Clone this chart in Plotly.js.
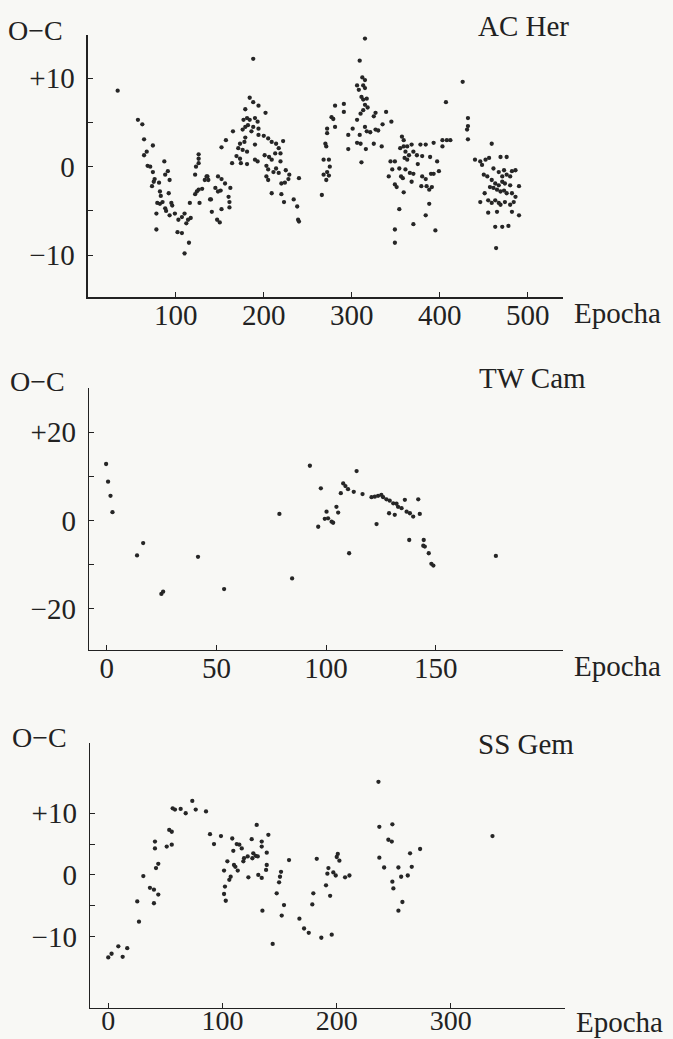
<!DOCTYPE html>
<html>
<head>
<meta charset="utf-8">
<script src="https://cdn.plot.ly/plotly-3.0.1.min.js"></script>
<style>html,body{margin:0;padding:0;background:#f8f8f5;}#chart{width:673px;height:1039px;}</style>
</head>
<body>
<div id="chart"></div>
<script>
// ---------- DATA ----------
const panelNames = ['AC Her', 'TW Cam', 'SS Gem'];
const yLabel = 'O\u2212C';
const xLabel = 'Epocha';

const acHerEpoch = [34,57,62,64,74,67,64,68,71,74,87,91,88,76,75,73,81,93,82,83,92,79,82,85,95,96,88,89,78,93,99,78,103,107,110,102,107,112,114,117,115,110,116,122,124,126,130,122,123,126,126,126,127,133,136,139,
188,184,188,194,179,202,177,181,184,190,193,179,182,188,194,176,165,186,194,200,205,209,214,222,157,152,179,178,173,171,176,181,169,173,190,164,174,181,190,193,201,206,209,213,217,219,203,205,214,217,211,203,205,219,220,224,225,229,240,228,209,220,223,234,238,239,240,135,137,148,152,145,148,151,156,162,140,160,161,141,152,161,147,150,
266,268,268,270,271,271,272,272,274,275,274,272,
315,309,312,315,306,308,313,315,311,313,317,315,318,313,291,281,291,277,279,310,327,325,339,345,335,306,301,281,315,317,321,327,330,296,309,306,310,325,334,296,316,311,
357,359,355,359,363,368,361,365,360,363,370,374,380,378,384,393,403,403,408,407,344,349,346,354,361,366,370,375,389,397,399,390,393,380,384,385,388,391,379,368,358,356,349,351,342,359,354,388,384,370,395,349,349,412,
426,432,432,431,432,459,440,446,448,452,456,469,476,461,467,473,482,486,480,476,471,450,454,459,463,467,471,474,480,490,457,461,465,469,473,476,482,486,451,455,446,463,467,459,469,474,484,480,455,465,482,490,463,471,478,464];
const acHerOC = [8.6,5.3,4.8,3.1,2.4,1.7,1.3,0.1,0.0,-0.6,0.6,-0.5,-0.9,-1.4,-1.7,-2.2,-1.8,-1.5,-2.8,-3.3,-3.0,-4.1,-4.2,-4.0,-4.1,-4.4,-4.7,-5.0,-5.3,-5.5,-5.3,-7.1,-6.0,-5.7,-5.3,-7.4,-7.5,-6.4,-6.0,-5.8,-8.6,-9.8,-4.1,-3.1,-2.8,-2.6,-2.5,-0.9,0.0,0.4,0.9,1.4,-4.1,-1.5,-1.1,-3.7,
12.2,7.8,7.3,6.9,6.5,6.1,5.3,5.5,5.3,5.5,5.1,4.5,4.7,4.5,4.3,4.2,4.0,4.0,3.6,3.5,3.2,2.8,2.6,2.9,3.0,2.2,3.3,2.8,2.6,2.1,1.9,1.7,1.2,0.9,2.5,0.4,0.4,0.3,0.8,0.6,1.3,1.1,0.8,1.5,2.1,1.5,0.1,-0.3,-0.2,-0.7,-0.6,-1.1,-1.5,0.6,-1.9,-1.8,-0.4,-0.9,-1.3,-1.4,-3.0,-3.1,-4.0,-3.7,-4.5,-6.0,-6.2,-1.1,-1.5,-1.1,-1.4,-2.4,-2.8,-2.7,-1.9,-2.4,-3.7,-3.4,-4.0,-5.1,-4.8,-4.6,-6.0,-6.3,
-3.2,0.8,-0.9,2.6,2.3,-1.5,3.8,4.3,0.8,0.0,-1.0,-0.6,
14.5,12.0,10.1,9.8,9.2,8.7,9.2,8.9,7.9,7.6,7.7,7.0,6.7,6.4,7.1,6.9,6.2,5.6,5.4,6.0,6.1,5.7,6.2,5.1,4.8,5.3,4.3,4.5,4.5,4.0,3.9,4.2,4.1,3.6,3.6,2.7,2.6,2.6,2.3,2.0,2.0,0.5,
3.4,3.0,2.1,2.3,2.3,2.5,1.7,1.3,1.0,0.8,1.7,1.3,1.2,2.5,2.5,2.7,2.3,3.0,3.0,7.3,0.6,0.6,-0.3,-0.2,-0.3,-0.7,-0.8,0.3,1.1,0.6,-0.5,-0.8,-0.8,-1.1,-1.4,-2.2,-2.6,-2.3,-2.2,-1.7,-1.3,-1.1,-2.0,-2.3,-1.1,-2.9,-4.8,-4.2,-5.5,-6.5,-7.2,-7.1,-8.6,3.0,
9.6,5.5,4.6,4.2,3.1,2.6,0.8,0.6,0.2,0.8,1.0,1.1,1.1,-0.2,-0.6,-0.4,-0.5,-0.4,-1.1,-0.9,-1.1,-0.9,-1.1,-1.5,-1.9,-2.1,-1.7,-1.9,-2.1,-2.2,-2.3,-2.4,-2.6,-2.8,-2.7,-3.0,-3.0,-3.4,-3.0,-3.8,-4.0,-3.8,-4.1,-4.1,-4.3,-4.0,-4.0,-4.3,-5.2,-5.1,-5.1,-5.5,-6.8,-6.8,-6.7,-9.2];

const twCamEpoch = [-0.3,0.6,1.7,2.6,13.8,16.6,24.9,25.7,41.6,53.5,78.7,84.5,92.6,96.4,97.6,99.4,100.2,100.9,102.5,103.2,104.7,105.5,106.7,107.8,108.8,110,110.5,112.6,113.9,116.6,120.7,122.2,123.7,125.2,126,127.5,129,130.6,132.1,132.8,134.4,135.9,136.7,138.2,139.7,142,142.7,128.7,131.3,123,137.9,144.5,144.3,145,146.8,148,148.9,177.4];
const twCamOC = [12.8,8.8,5.6,1.9,-7.9,-5.1,-16.6,-16.1,-8.2,-15.5,1.5,-13.1,12.4,-1.4,7.3,0.4,2.0,0.5,-0.25,-0.5,3.1,1.8,6.2,8.4,7.8,7.1,-7.4,6.5,11.2,6.0,5.3,5.4,5.6,5.8,5.3,4.8,4.5,3.9,3.8,3.1,2.8,4.7,2.0,1.65,0.9,4.8,1.5,1.65,1.3,-0.8,-4.4,-4.4,-5.7,-5.9,-7.4,-9.8,-10.2,-8.0];

const ssGemEpoch = [0,2.9,8.8,12.6,16.6,25.4,26.9,30.7,36.5,40,43.8,40,40.9,40.9,41.8,43.8,51.2,53.4,55.6,55.6,56.4,58.4,63.4,67.8,73.6,76.6,85.6,89.1,92.6,98.7,101.4,102.2,101.4,102.9,
104.3,106,107.2,108.6,109.5,110.1,111.3,113.4,112.5,114.8,116.9,118.3,118.9,122.1,122.7,125.6,126.2,127,129.1,130,130.9,131.4,134.4,134.4,134.4,138.2,138.8,138.8,140.2,135,
144,147.5,149.6,150.4,151.3,151.9,153.9,158.3,
167.4,171.5,175.6,178.7,179.6,182.6,186.6,190.7,191.9,192.8,194.3,195.7,197.1,199.2,200.1,201,202.4,207.4,211.2,
236.6,237.4,237.4,241.6,245.3,248.3,248.8,248.8,249.7,254.1,254.1,256.5,257.6,262.3,264.3,265.8,273.1,336.5];
const ssGemOC = [-13.4,-12.8,-11.6,-13.3,-11.9,-4.3,-7.6,-0.2,-2.1,-2.4,-3.2,-4.6,5.4,4.3,1.1,1.8,4.6,7.3,7.0,4.9,10.8,10.6,10.7,10.0,12.0,10.6,10.3,6.6,5.0,6.3,0.7,-1.9,-3.1,-4.2,
2.2,-0.8,-0.3,5.9,3.9,1.6,1.3,0.7,5.0,4.9,4.3,2.2,2.7,3.0,-0.4,5.8,2.7,3.5,3.1,8.1,3.0,0.0,-0.5,5.4,4.6,0.8,1.6,3.6,6.5,-5.8,
-11.2,-3.0,-1.2,-0.3,0.5,-6.6,-4.9,2.4,
-7.1,-8.7,-9.4,-4.8,-3.0,2.6,-10.2,-1.7,0.2,1.1,-3.4,-9.7,0.4,-0.1,2.9,3.4,2.3,-0.4,-0.1,
15.1,7.8,2.8,1.2,5.7,5.4,8.2,-1.1,-2.2,1.2,-5.8,-0.3,-4.4,-0.1,3.5,1.3,4.2,6.3];

const acHerXTicks = [100, 200, 300, 400, 500];
const twCamXTicks = [0, 50, 100, 150];
const ssGemXTicks = [0, 100, 200, 300];
const acHerYTicks = [-10, -5, 0, 5, 10];
const acHerYText = ['\u221210', '', '0', '', '+10'];
const twCamYTicks = [-20, -10, 0, 10, 20];
const twCamYText = ['\u221220', '', '0', '', '+20'];
const ssGemYTicks = [-10, -5, 0, 5, 10];
const ssGemYText = ['\u221210', '', '0', '', '+10'];

// ---------- LAYOUT ----------
const W = 673, H = 1039;
const FONT = 'Liberation Serif';
const INK = '#222';
const px = v => v / W;
const py = v => 1 - v / H;

function mk(x, y, xa, ya) {
  return {x: x, y: y, xaxis: xa, yaxis: ya, type: 'scatter', mode: 'markers',
    marker: {size: 4.3, color: '#262626'}, hoverinfo: 'skip', showlegend: false};
}
const data = [
  mk(acHerEpoch, acHerOC, 'x', 'y'),
  mk(twCamEpoch, twCamOC, 'x2', 'y2'),
  mk(ssGemEpoch, ssGemOC, 'x3', 'y3')
];

function xax(dom, rng, tv, anchor, standoff, fs) {
  return {domain: dom, range: rng, anchor: anchor, tickmode: 'array', tickvals: tv,
    ticktext: tv.map(String), ticks: 'inside', ticklen: 5, tickwidth: 1.1, tickcolor: INK,
    showline: true, linecolor: INK, linewidth: 1.3, showgrid: false, zeroline: false,
    tickfont: {family: FONT, size: fs, color: INK}, ticklabelstandoff: standoff, fixedrange: true};
}
function yax(dom, rng, tv, tt, anchor) {
  return {domain: dom, range: rng, anchor: anchor, tickmode: 'array', tickvals: tv,
    ticktext: tt, ticks: 'inside', ticklen: 5, tickwidth: 1.1, tickcolor: INK,
    showline: true, linecolor: INK, linewidth: 1.3, showgrid: false, zeroline: false,
    tickfont: {family: FONT, size: 29, color: INK}, ticklabelstandoff: 6, fixedrange: true};
}

function ann(text, xl, yc, size) {
  return {text: text, x: px(xl), y: py(yc), xref: 'paper', yref: 'paper',
    xanchor: 'left', yanchor: 'middle', showarrow: false,
    font: {family: FONT, size: size, color: INK}};
}

const layout = {
  width: W, height: H,
  margin: {l: 0, r: 0, t: 0, b: 0},
  paper_bgcolor: '#f8f8f5', plot_bgcolor: 'rgba(0,0,0,0)',
  showlegend: false,
  xaxis: xax([px(87.75), px(563)], [0, 540], acHerXTicks, 'y', -8, 29),
  yaxis: yax([py(297.3), py(35)], [-14.77, 14.9], acHerYTicks, acHerYText, 'x'),
  xaxis2: xax([px(89), px(563)], [-8.1, 208], twCamXTicks, 'y2', -8, 29),
  yaxis2: yax([py(650), py(388)], [-29.3, 30.0], twCamYTicks, twCamYText, 'x2'),
  xaxis3: xax([px(90), px(565)], [-16, 400], ssGemXTicks, 'y3', -13, 28),
  yaxis3: yax([py(1008), py(743)], [-21.6, 21.4], ssGemYTicks, ssGemYText, 'x3'),
  annotations: [
    ann(yLabel, 6, 30, 28), ann(panelNames[0], 476, 26, 29), ann(xLabel, 572, 313, 29),
    ann(yLabel, 8, 381, 28), ann(panelNames[1], 477, 378, 29), ann(xLabel, 572, 666, 29),
    ann(yLabel, 10, 737, 28), ann(panelNames[2], 476, 744, 29), ann(xLabel, 574, 1022, 29)
  ]
};

Plotly.newPlot('chart', data, layout, {displayModeBar: false, staticPlot: true});
</script>
</body>
</html>
